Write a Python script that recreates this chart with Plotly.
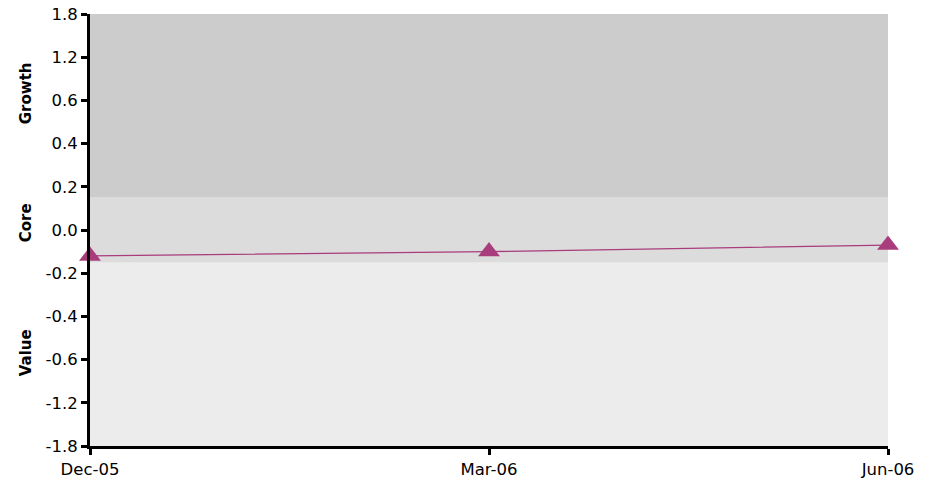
import numpy as np
import plotly.graph_objects as go

# Data
categories = ["Dec-05", "Mar-06", "Jun-06"]
style_values = [-0.12, -0.10, -0.07]
tick_values = [-1.8, -1.2, -0.6, -0.4, -0.2, 0.0, 0.2, 0.4, 0.6, 1.2, 1.8]
tick_labels = ["-1.8", "-1.2", "-0.6", "-0.4", "-0.2", "0.0", "0.2", "0.4", "0.6", "1.2", "1.8"]
band_names = ["Value", "Core", "Growth"]
band_bounds = [-1.8, -0.15, 0.15, 1.8]
band_colors = ["#ECECEC", "#DCDCDC", "#CCCCCC"]

# Piecewise scale: each tick is evenly spaced
tick_pos = list(range(len(tick_values)))
def to_pos(v):
    return float(np.interp(v, tick_values, tick_pos))

fig = go.Figure()

for i, name in enumerate(band_names):
    fig.add_shape(type="rect", xref="paper", yref="y", x0=0, x1=1,
                  y0=to_pos(band_bounds[i]), y1=to_pos(band_bounds[i + 1]),
                  fillcolor=band_colors[i], line_width=0, layer="below")

fig.add_trace(go.Scatter(
    x=list(range(len(categories))),
    y=[to_pos(v) for v in style_values],
    mode="lines+markers",
    line=dict(color="#A83C7C", width=1.3),
    marker=dict(symbol="triangle-up", size=19, color="#A83C7C"),
    cliponaxis=False,
    showlegend=False,
    hoverinfo="skip",
))

label_y = {"Growth": 0.817, "Core": 0.516, "Value": 0.215}
for name in band_names:
    fig.add_annotation(xref="paper", yref="paper", x=-0.080, y=label_y[name],
                       xanchor="center", yanchor="middle",
                       text="<b>" + name + "</b>", textangle=-90, showarrow=False,
                       font=dict(family="DejaVu Sans", size=15, color="#000000"))

fig.update_xaxes(
    range=[0, len(categories) - 1],
    tickvals=list(range(len(categories))), ticktext=categories,
    showline=True, linecolor="#000000", linewidth=3,
    ticks="outside", ticklen=6, tickwidth=3, tickcolor="#000000",
    showgrid=False, zeroline=False, ticklabeloverflow="allow",
    tickfont=dict(family="DejaVu Sans", size=16.5, color="#000000"),
)
fig.update_yaxes(
    range=[0, len(tick_values) - 1],
    tickvals=tick_pos, ticktext=tick_labels,
    showline=True, linecolor="#000000", linewidth=3,
    ticks="outside", ticklen=6, tickwidth=3, tickcolor="#000000",
    showgrid=False, zeroline=False, ticklabeloverflow="allow",
    tickfont=dict(family="DejaVu Sans", size=16.5, color="#000000"),
)

fig.update_layout(
    width=937, height=486,
    margin=dict(l=90, r=49, t=14, b=40, autoexpand=False),
    paper_bgcolor="#FFFFFF", plot_bgcolor="#FFFFFF",
)

fig.write_html("out.html", config={"displayModeBar": False},
               post_script="document.body.style.margin='0';")
